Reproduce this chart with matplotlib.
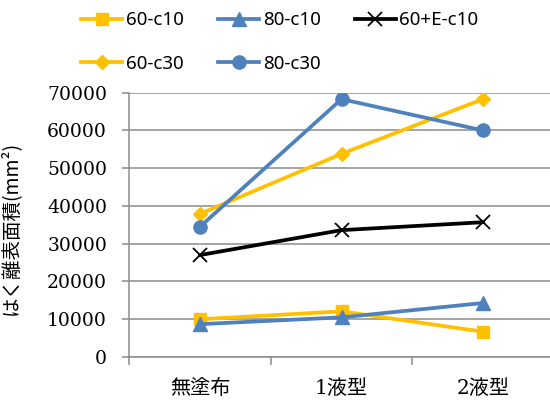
import matplotlib
matplotlib.use("Agg")
import matplotlib.pyplot as plt

# 目盛りは明朝系の数字、漢字はCJKフォントで補う
serif_cjk = ["DejaVu Serif", "Noto Sans CJK JP"]
plt.rcParams["font.family"] = serif_cjk

# 塗布条件
categories = ["無塗布", "1液型", "2液型"]

# はく離表面積 (mm2)
s60_c10 = [10000, 12100, 6700]
s80_c10 = [8700, 10500, 14300]
s60e_c10 = [27000, 33600, 35700]
s60_c30 = [37900, 53800, 68300]
s80_c30 = [34500, 68300, 60000]

yticks = [0, 10000, 20000, 30000, 40000, 50000, 60000, 70000]

yellow = "#FFC000"
blue = "#4F81BD"
grid_c = "#8C8C8C"

fig = plt.figure(figsize=(5.5, 4.05), dpi=100)
ax = fig.add_axes([129.25 / 550, (405 - 357) / 405, 424.5 / 550, (357 - 92.7) / 405])

x = list(range(len(categories)))
lw = 2.7
l1, = ax.plot(x, s60_c10, color=yellow, lw=lw, marker="s", ms=8.5, label="60-c10")
l2, = ax.plot(x, s80_c10, color=blue, lw=lw, marker="^", ms=10, label="80-c10")
l3, = ax.plot(x, s60e_c10, color="black", lw=lw, marker="x", ms=10, mew=1.3, label="60+E-c10")
l4, = ax.plot(x, s60_c30, color=yellow, lw=lw, marker="D", ms=7.5, label="60-c30")
l5, = ax.plot(x, s80_c30, color=blue, lw=lw, marker="o", ms=9.5, label="80-c30")

ax.set_xlim(-0.5, 2.5)
ax.set_ylim(0, 70000)
ax.set_yticks(yticks)
ax.set_yticklabels([str(v) for v in yticks])
ax.yaxis.grid(True, color=grid_c, lw=1.1)
ax.set_axisbelow(True)

ax.set_xticks(x)
ax.set_xticklabels(categories)
ax.tick_params(axis="x", length=0, pad=16, labelsize=14.5)
ax.set_xticks([-0.5, 0.5, 1.5, 2.5], minor=True)
ax.tick_params(axis="x", which="minor", length=6, width=1.1, color=grid_c, direction="out")
ax.tick_params(axis="y", length=5, width=1.1, color=grid_c, direction="out", pad=11,
               labelsize=13.5)
for lab in ax.get_xticklabels() + ax.get_yticklabels():
    lab.set_family(serif_cjk)

for s in ["top", "right"]:
    ax.spines[s].set_visible(False)
for s in ["left", "bottom"]:
    ax.spines[s].set_color(grid_c)
    ax.spines[s].set_linewidth(1.1)

ax.set_ylabel("はく離表面積(mm²)", family=["Noto Sans CJK JP", "DejaVu Sans"], fontsize=14)
ax.yaxis.set_label_coords(-0.255, 0.49)

# 凡例は行ごとに並ぶよう列順に並べ替え
fig.legend([l1, l4, l2, l5, l3], ["60-c10", "60-c30", "80-c10", "80-c30", "60+E-c10"],
           ncol=3, loc="upper left", bbox_to_anchor=(70 / 550, 1.0), frameon=False,
           prop={"family": "Noto Sans", "size": 13.5}, handlelength=2.2, handletextpad=0.2,
           columnspacing=1.8, labelspacing=1.35, borderaxespad=0.2)

fig.savefig("out.png", dpi=100)
